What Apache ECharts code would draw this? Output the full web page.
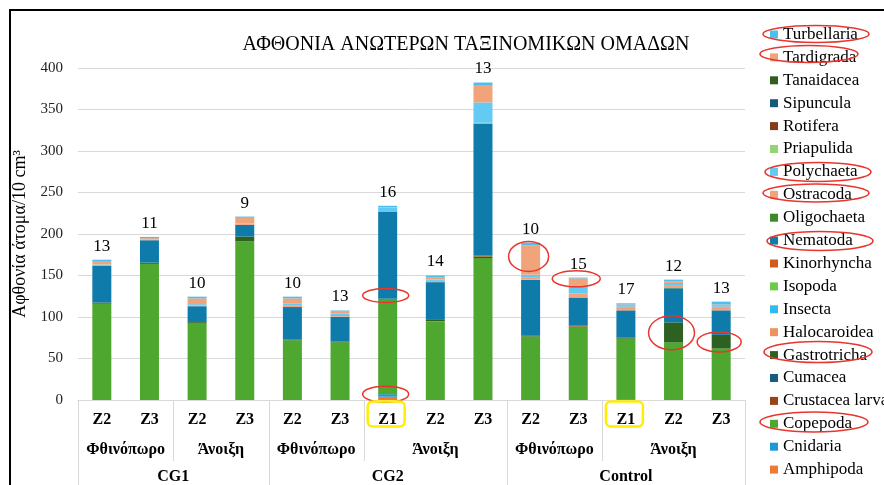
<!DOCTYPE html>
<html><head><meta charset="utf-8">
<script src="https://cdn.jsdelivr.net/npm/echarts@6/dist/echarts.min.js"></script>
<style>html,body{margin:0;padding:0;background:#fff}#c{width:884px;height:485px}</style>
</head><body><div id="c"></div>
<script>
// ---- data ----
const categories = ['Z2','Z3','Z2','Z3','Z2','Z3','Z1','Z2','Z3','Z2','Z3','Z1','Z2','Z3'];
// second level (season) labels: [centre position on 0..14 scale, text]
const seasonLabels = [[1,'Φθινόπωρο'],[3,'Άνοιξη'],[5,'Φθινόπωρο'],[7.5,'Άνοιξη'],[10,'Φθινόπωρο'],[12.5,'Άνοιξη']];
const groupLabels = [[2,'CG1'],[6.5,'CG2'],[11.5,'Control']];
const groupBounds = [0,4,9,14];
const seasonBounds = [2,6,11];
const taxaCounts = [13,11,10,9,10,13,16,14,13,10,15,17,12,13];

const amphipoda     = [0,0,0,0,0,0,4,0,0,0,0,0,0,0];
const cnidaria      = [0,0,0,0,0,0,3,0,0,0,0,1,0,0];
const copepoda      = [116,164,93,191,72,69.5,115,95,171,76.5,88.5,73,69.5,62];
const crustaceaLarva= [0,0,0,0,0,0,0,0,0,0,1,0,0,0];
const cumacea       = [0,0,0,0,0,0,0,0,0,0,0,0,0,0];
const gastrotricha  = [1.5,1.5,2,6,1,1,0,1.5,2,1,0,1,24,16.5];
const halocaroidea  = [0,0,0,0,0,0,0,0,0,0,0,0,0,0];
const insecta       = [0,0,0,0,0,0,0,0,0,0,0,0,0,0];
const isopoda       = [0,0,0,0,0,0,0,0,0,0,0,0,0,0];
const kinorhyncha   = [0,0,0,0,0,0,0,0,1.5,0,0,0,0,0];
const nematoda      = [44.5,27,18,14,39,29.5,104.5,45.5,158.5,67.5,34,33,41,29.5];
const oligochaeta   = [0,0,0,0,0,0,0,0,0,0,0,0,1,0];
const ostracoda     = [1,1,1,1.5,1.5,1,0,1.5,1,3,5,3,3,3];
const polychaeta    = [0.5,0,1.5,0,2.5,3,5,1.5,24.5,3,9,2,2.5,2];
const priapulida    = [0,0,0,0,0,0,1,0,0,0,0,0,0,0];
const rotifera      = [0,0,0,0,0,0,0,0,0,0,0,0,0,0];
const sipuncula     = [0,0,0,0,0,0,0,0,0,0,0,0,0,0];
const tanaidacea    = [0,0,0,0,0,0,0,0,0,0,0,0,0,0];
const tardigrada    = [4,1.5,7,7,6.5,3.5,0,3,21,35.5,9,2,2,2];
const turbellaria   = [1.5,1.5,2,1.5,2,0.5,1.5,2,3,3,1,1.5,2,3.5];

// stacking order, bottom first
const seriesDefs = [
  ['Amphipoda', amphipoda, '#EC7A3B'],
  ['Cnidaria', cnidaria, '#1A9AD8'],
  ['Copepoda', copepoda, '#4EA72F'],
  ['Crustacea larva', crustaceaLarva, '#9A4318'],
  ['Cumacea', cumacea, '#125E84'],
  ['Gastrotricha', gastrotricha, '#2C6121'],
  ['Halocaroidea', halocaroidea, '#EF9160'],
  ['Insecta', insecta, '#32B9EE'],
  ['Isopoda', isopoda, '#6CCC48'],
  ['Kinorhyncha', kinorhyncha, '#D25A1E'],
  ['Nematoda', nematoda, '#0E7BAA'],
  ['Oligochaeta', oligochaeta, '#3C8B2A'],
  ['Ostracoda', ostracoda, '#F2A27C'],
  ['Polychaeta', polychaeta, '#63CAF3'],
  ['Priapulida', priapulida, '#93D572'],
  ['Rotifera', rotifera, '#853A1A'],
  ['Sipuncula', sipuncula, '#175A78'],
  ['Tanaidacea', tanaidacea, '#2F5E1E'],
  ['Tardigrada', tardigrada, '#F1A47A'],
  ['Turbellaria', turbellaria, '#4DBFEF']
];

// annotations (red ellipses on bars, by category and value)
const barEllipses = [
  {cat:6, value:126, rx:23, ry:7},
  {cat:6, value:7, rx:23, ry:8},
  {cat:9, value:173, rx:20, ry:15},
  {cat:10, value:146, rx:24, ry:8},
  {cat:12, value:81, rx:23, ry:17},
  {cat:13, value:70, rx:22, ry:10}
];
const yellowBoxCats = [6, 11];
const legendEllipses = [
  [816,34,53,8.5],[809,54,49,8.5],[818,172,53,9.5],[816,193,53,9],
  [820,241,53,9.5],[818,352,54,10.5],[814,422,54,10]
];

const SERIF = "'Liberation Serif', 'DejaVu Serif', serif";

const series = seriesDefs.map((d, i) => {
  const s = {
    name: d[0], type: 'bar', stack: 'total', data: d[1],
    barWidth: 19, xAxisIndex: 0, yAxisIndex: 0,
    itemStyle: {color: d[2]}
  };
  if (i === seriesDefs.length - 1) {
    s.label = {
      show: true, position: 'top', distance: 5,
      formatter: p => String(taxaCounts[p.dataIndex]),
      fontFamily: SERIF, fontSize: 17, color: '#000'
    };
  }
  return s;
});

const legendOrder = seriesDefs.map(d => d[0]).reverse();

const seasonMap = {}; seasonLabels.forEach(s => seasonMap[s[0]] = s[1]);
const groupMap = {}; groupLabels.forEach(s => groupMap[s[0]] = s[1]);

const option = {
  animation: false,
  backgroundColor: '#fff',
  title: {
    text: 'ΑΦΘΟΝΙΑ ΑΝΩΤΕΡΩΝ ΤΑΞΙΝΟΜΙΚΩΝ ΟΜΑΔΩΝ',
    left: 461, top: 30, textAlign: 'center',
    textStyle: {fontFamily: SERIF, fontSize: 20, fontWeight: 'normal', color: '#000'}
  },
  legend: {
    orient: 'vertical', left: 770, top: 26, height: 600, padding: 0,
    itemWidth: 8, itemHeight: 8, itemGap: 5.9,
    icon: 'rect', data: legendOrder,
    textStyle: {fontFamily: SERIF, fontSize: 17, color: '#000', lineHeight: 17}
  },
  grid: {left: 78, right: 139, top: 68, bottom: 84, containLabel: false},
  xAxis: [
    {
      type: 'category', data: categories, position: 'bottom',
      axisLine: {lineStyle: {color: '#d9d9d9'}},
      axisTick: {show: false},
      axisLabel: {margin: 12, fontFamily: SERIF, fontSize: 16, fontWeight: 'bold', color: '#000', interval: 0}
    },
    {
      type: 'value', min: 0, max: 14, interval: 0.5, position: 'bottom',
      axisLine: {show: false}, axisTick: {show: false}, splitLine: {show: false},
      axisLabel: {margin: 42, fontFamily: SERIF, fontSize: 16, fontWeight: 'bold', color: '#000',
        showMinLabel: true, showMaxLabel: true,
        formatter: v => seasonMap[v] || ''}
    },
    {
      type: 'value', min: 0, max: 14, interval: 0.5, position: 'bottom',
      axisLine: {show: false}, axisTick: {show: false}, splitLine: {show: false},
      axisLabel: {margin: 69, fontFamily: SERIF, fontSize: 16, fontWeight: 'bold', color: '#000',
        showMinLabel: true, showMaxLabel: true,
        formatter: v => groupMap[v] || ''}
    }
  ],
  yAxis: {
    type: 'value', min: 0, max: 400, interval: 50,
    name: 'Αφθονία άτομα/10 cm³', nameLocation: 'middle', nameGap: 46,
    nameTextStyle: {fontFamily: SERIF, fontSize: 18, color: '#000'},
    axisLine: {show: false}, axisTick: {show: false},
    splitLine: {lineStyle: {color: '#d9d9d9', width: 1}},
    axisLabel: {margin: 15, fontFamily: SERIF, fontSize: 15, color: '#222'}
  },
  series: series
};

const chart = echarts.init(document.getElementById('c'), null, {renderer: 'canvas'});
chart.setOption(option);

// decorations computed from the axes
const g = [];
const y0 = chart.convertToPixel({yAxisIndex: 0}, 0);
groupBounds.forEach(v => {
  const x = Math.round(chart.convertToPixel({xAxisIndex: 1}, v)) + 0.5;
  g.push({type: 'line', shape: {x1: x, y1: y0, x2: x, y2: 490}, style: {stroke: '#d9d9d9', lineWidth: 1}});
});
seasonBounds.forEach(v => {
  const x = Math.round(chart.convertToPixel({xAxisIndex: 1}, v)) + 0.5;
  g.push({type: 'line', shape: {x1: x, y1: y0, x2: x, y2: 461}, style: {stroke: '#d9d9d9', lineWidth: 1}});
});
barEllipses.forEach(e => {
  const p = chart.convertToPixel({xAxisIndex: 0, yAxisIndex: 0}, [e.cat, e.value]);
  g.push({type: 'ellipse', shape: {cx: p[0] - 2, cy: p[1], rx: e.rx, ry: e.ry},
    style: {fill: 'transparent', stroke: '#E8352E', lineWidth: 1.5}, z: 100});
});
yellowBoxCats.forEach(c => {
  const x = chart.convertToPixel({xAxisIndex: 0}, c);
  g.push({type: 'rect', shape: {x: x - 20, y: y0 + 1.5, width: 37, height: 25, r: 5},
    style: {fill: 'transparent', stroke: '#FFEE00', lineWidth: 2.5}, z: 100});
});
legendEllipses.forEach(e => {
  g.push({type: 'ellipse', shape: {cx: e[0], cy: e[1], rx: e[2], ry: e[3]},
    style: {fill: 'transparent', stroke: '#E8352E', lineWidth: 1.5}, z: 100});
});
g.push({type: 'rect', shape: {x: 10, y: 10, width: 1000, height: 700},
  style: {fill: 'transparent', stroke: '#000', lineWidth: 2}, z: 100});
chart.setOption({graphic: g});
</script>
</body></html>
